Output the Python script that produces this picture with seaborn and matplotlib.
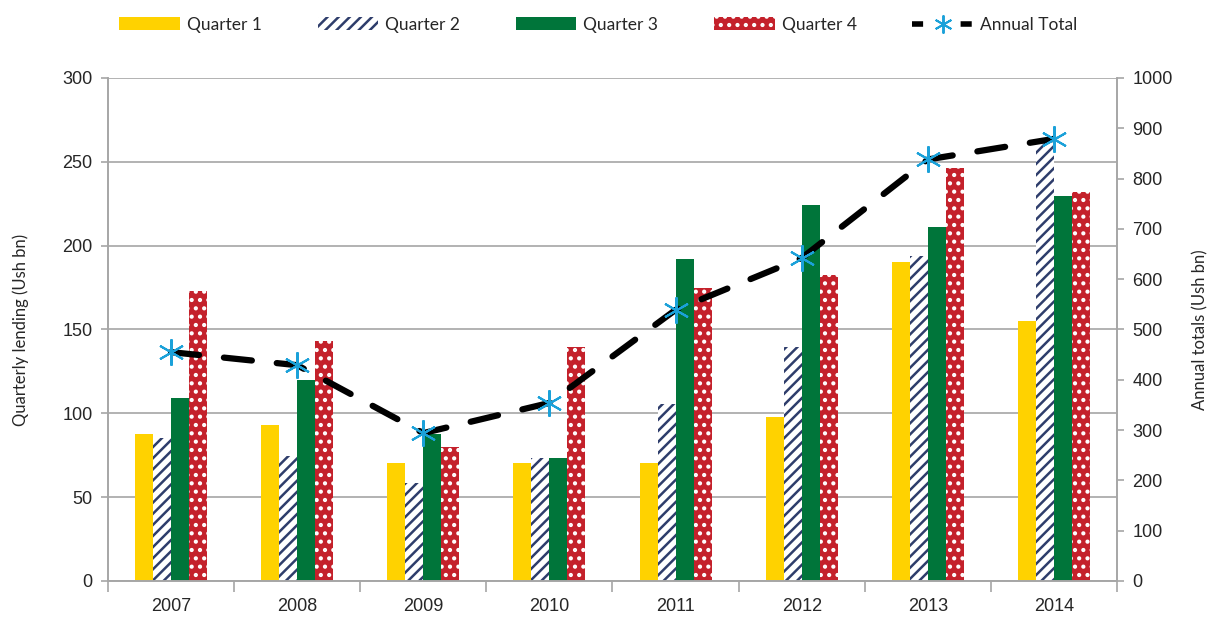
import matplotlib
matplotlib.use("Agg")
import matplotlib.pyplot as plt
import seaborn as sns
import pandas as pd
import numpy as np
from matplotlib.lines import Line2D
from matplotlib.patches import Patch

years = ["2007", "2008", "2009", "2010", "2011", "2012", "2013", "2014"]
quarters = ["Quarter 1", "Quarter 2", "Quarter 3", "Quarter 4"]
q1 = [87.5, 93, 70.5, 70.5, 70.5, 98, 190, 155]
q2 = [85.5, 74.5, 58.5, 73.5, 105.5, 139.5, 194, 261.5]
q3 = [109, 120, 87.5, 73.5, 192, 224, 211, 229.5]
q4 = [173, 143, 80, 139.5, 174.5, 182.5, 246.5, 232]
annual = [455, 429, 294, 354, 539, 642, 838, 879]

sns.set_style("white")
plt.rcParams["font.family"] = ["Liberation Sans", "DejaVu Sans"]
plt.rcParams["hatch.linewidth"] = 1.8

df = pd.DataFrame({
    "year": years * 4,
    "quarter": [q for q in quarters for _ in years],
    "value": q1 + q2 + q3 + q4,
})

gray = "#A6A6A6"
navy = "#2E3D6B"
colors = ["#FFD200", "#FFFFFF", "#00753A", "#C4212B"]

fig = plt.figure(figsize=(12.16, 6.18), dpi=100)
ax = fig.add_axes([0.0888, 0.0599, 0.8298, 0.8139])

sns.barplot(data=df, x="year", y="value", hue="quarter", palette=colors,
            width=0.57, gap=0, ax=ax, legend=False, saturation=1)

# patterns: Q2 navy stripes, Q4 white dots
for bar in ax.containers[1]:
    bar.set_hatch("///")
    bar.set_edgecolor(navy)
    bar.set_linewidth(0)
for bar in ax.containers[3]:
    bar.set_hatch("..")
    bar.set_edgecolor("white")
    bar.set_linewidth(0)
for i in (0, 2):
    for bar in ax.containers[i]:
        bar.set_linewidth(0)

ax.set_ylim(0, 300)
ax.set_yticks(range(0, 301, 50))
ax.set_xlim(-0.5, 7.5)
ax.yaxis.grid(True, color=gray, lw=1.2)
ax.set_axisbelow(True)
ax.set_xlabel("")
ax.set_ylabel("Quarterly lending (Ush bn)", fontsize=12, family="Lato", labelpad=24)
ax.tick_params(axis="y", labelsize=13, length=5, color=gray, width=1.2, left=True, pad=6)
ax.tick_params(axis="x", labelsize=13, length=0, pad=12)
ax.set_xticks(np.arange(-0.5, 8, 1), minor=True)
ax.tick_params(axis="x", which="minor", length=8, color=gray, width=1.2, bottom=True)
for s in ["left", "bottom", "right"]:
    ax.spines[s].set_color(gray)
    ax.spines[s].set_linewidth(1.2)
ax.spines["top"].set_visible(False)

ax2 = ax.twinx()
sns.lineplot(x=np.arange(len(years)), y=annual, ax=ax2, color="black", lw=4.5,
             zorder=3)
ax2.lines[0].set_dashes([4.5, 4])
ax2.lines[0].set_dash_capstyle("round")
ax2.plot(np.arange(len(years)), annual, ls="none", marker=(6, 2, 0),
         ms=19, mew=1.5, color="#1BA1D9", zorder=4)
ax2.set_ylim(0, 1000)
ax2.set_yticks(range(0, 1001, 100))
ax2.set_ylabel("Annual totals (Ush bn)", fontsize=12, family="Lato", labelpad=14)
ax2.tick_params(axis="y", labelsize=13, length=5, color=gray, width=1.2, right=True, pad=6)
for s in ["left", "bottom", "right"]:
    ax2.spines[s].set_color(gray)
    ax2.spines[s].set_linewidth(1.2)
ax2.spines["top"].set_visible(False)

handles = [
    Patch(facecolor=colors[0], lw=0),
    Patch(facecolor="white", edgecolor=navy, hatch="///", lw=0),
    Patch(facecolor=colors[2], lw=0),
    Patch(facecolor=colors[3], edgecolor="white", hatch="..", lw=0),
    Line2D([], [], color="black", lw=4, dashes=[2, 6.75], marker=(6, 2, 0),
           ms=13, mec="#1BA1D9", mfc="#1BA1D9", mew=1.4),
]
fig.legend(handles, quarters + ["Annual Total"], loc="upper center",
           bbox_to_anchor=(0.492, 0.998), ncol=5, frameon=False,
           prop={"family": "Lato", "size": 12.5}, handlelength=3.5, handleheight=0.8,
           columnspacing=3.2, handletextpad=0.4)

fig.savefig("out.png", dpi=100)
